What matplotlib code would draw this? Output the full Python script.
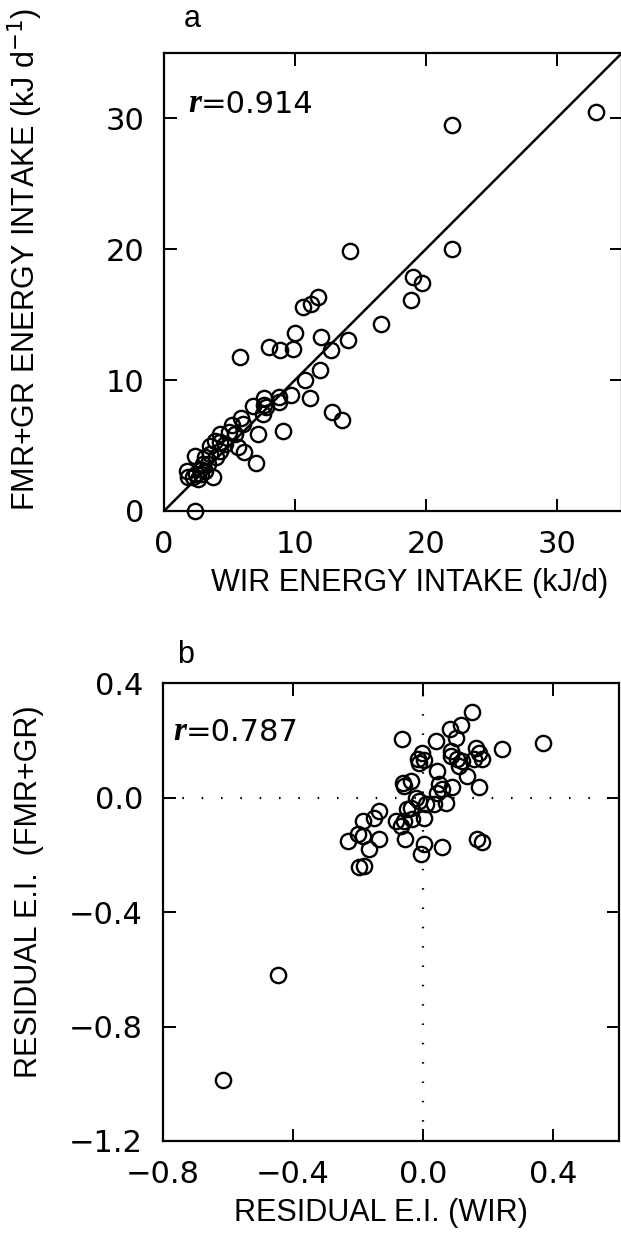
import matplotlib
matplotlib.use('Agg')
from matplotlib import pyplot as plt

plt.rcParams['font.family'] = ['Liberation Sans', 'DejaVu Sans']
plt.rcParams['font.size'] = 22
plt.rcParams['axes.linewidth'] = 1.6
for t in ('xtick', 'ytick'):
    plt.rcParams[t + '.direction'] = 'in'
    plt.rcParams[t + '.major.size'] = 9
    plt.rcParams[t + '.major.width'] = 1.4
    plt.rcParams[t + '.major.pad'] = 14
    plt.rcParams[t + '.labelsize'] = 22
plt.rcParams['xtick.top'] = True
plt.rcParams['ytick.right'] = True

# panel a: energy intake, WIR vs FMR+GR (kJ/d)
wir_ei = [33.0, 22.0, 22.0, 14.2, 19.0, 19.7, 18.85, 16.6, 11.75, 11.2, 10.65,
          10.0, 11.97, 14.05, 12.73, 9.87, 8.9, 8.0, 5.82, 11.92, 10.78, 9.67, 11.16,
          12.86, 13.6, 9.06, 7.2, 7.04, 2.35, 3.75,
          8.76, 8.76, 7.67, 7.67, 7.54, 7.8, 6.78, 5.9, 6.03, 5.65, 6.1, 5.2, 5.39,
          5.0, 4.25, 4.25, 4.63, 3.87, 4.25, 3.49, 3.49, 4.0, 3.11, 2.35, 2.99, 3.37,
          2.73, 1.72, 1.85, 2.48, 2.86, 3.11, 2.23, 2.61]
fmr_ei = [30.5, 29.5, 20.0, 19.9, 17.9, 17.45, 16.1, 14.3, 16.35, 15.8, 15.6,
          13.6, 13.26, 13.08, 12.3, 12.36, 12.3, 12.56, 11.8, 10.8, 10.0, 8.9, 8.67,
          7.56, 6.92, 6.08, 5.9, 3.67, 0.0, 2.56,
          8.72, 8.33, 8.64, 8.08, 7.44, 7.95, 8.0, 7.13, 6.67, 4.87, 4.5, 6.54, 5.9,
          6.0, 5.9, 5.26, 5.13, 5.38, 4.62, 5.0, 4.36, 4.1, 4.1, 4.23, 3.59, 3.59,
          3.2, 3.08, 2.56, 2.82, 2.82, 3.08, 2.56, 2.44]
ticks_a = [0, 10, 20, 30]

# panel b: residual energy intake
res_wir = [-0.613, -0.445, 0.149, 0.115, 0.083, 0.100, -0.066, 0.041, 0.369, 0.241,
           0.161, 0.172, 0.182, 0.156, 0.085, 0.085, 0.105, 0.121, 0.110, 0.136,
           0.172, -0.004, -0.017, 0.003, -0.012, 0.044, -0.063, -0.038, -0.058,
           0.049, 0.059, 0.090, 0.044, 0.069, 0.034, 0.008, -0.022, -0.012, -0.038,
           -0.048, 0.003, -0.033, -0.058, -0.084, -0.068, -0.135, -0.150, -0.186,
           -0.201, -0.230, -0.186, -0.135, -0.165, -0.055, 0.003, -0.007, 0.059,
           0.164, 0.182, -0.198, -0.181]
res_fmr = [-0.988, -0.620, 0.300, 0.254, 0.241, 0.210, 0.204, 0.198, 0.192, 0.171,
           0.172, 0.157, 0.134, 0.134, 0.163, 0.146, 0.134, 0.128, 0.111, 0.076,
           0.037, 0.157, 0.134, 0.131, 0.122, 0.093, 0.052, 0.058, 0.041,
           0.047, 0.029, 0.037, 0.017, -0.017, -0.023, -0.023, 0.0, -0.012, -0.035,
           -0.041, -0.070, -0.076, -0.082, -0.082, -0.099, -0.047, -0.070, -0.082,
           -0.128, -0.152, -0.134, -0.146, -0.181, -0.146, -0.163, -0.196, -0.172,
           -0.143, -0.155, -0.242, -0.239]
xticks_b = [-0.8, -0.4, 0.0, 0.4]
yticks_b = [-1.2, -0.8, -0.4, 0.0, 0.4]

fig = plt.figure(figsize=(6.21, 12.34), dpi=100)

# ---- panel a
ax1 = fig.add_axes([0.2641, 0.5859, 0.7375, 0.3712])
ax1.plot([0, 35], [0, 35], 'k-', lw=1.8)
ax1.plot(wir_ei, fmr_ei, 'o', mfc='none', mec='k', ms=11, mew=1.7, clip_on=False)
ax1.set_xlim(0, 35), ax1.set_ylim(0, 35)
ax1.set_xticks(ticks_a), ax1.set_yticks(ticks_a)
ax1.tick_params(labelfontfamily='DejaVu Sans')
ax1.set_xlabel('WIR ENERGY INTAKE (kJ/d)')
ax1.set_ylabel('FMR+GR ENERGY INTAKE (kJ d$^{-1}$)')
ax1.xaxis.set_label_coords(0.537, -0.125)
ax1.yaxis.set_label_coords(-0.26, 0.55)
r1 = ax1.text(0.052, 0.871, 'r', transform=ax1.transAxes, family='Liberation Serif',
              style='italic', weight='bold', fontsize=24, va='baseline')
ax1.annotate('=0.914', xy=(1, 0), xycoords=r1, va='bottom', ha='left',
             fontsize=22, family='DejaVu Sans')
ax1.text(0.061, 1.057, 'a', transform=ax1.transAxes, ha='center', va='baseline')

# ---- panel b
ax2 = fig.add_axes([0.2617, 0.0754, 0.7343, 0.3709])
ax2.axhline(0, color='k', lw=1.6, ls=(0, (0.7, 8)))
ax2.axvline(0, color='k', lw=1.6, ls=(0, (0.7, 8)))
ax2.plot(res_wir, res_fmr, 'o', mfc='none', mec='k', ms=11, mew=1.7)
ax2.set_xlim(-0.8, 0.6), ax2.set_ylim(-1.2, 0.4)
ax2.set_xticks(xticks_b)
ax2.set_xticklabels([f'{v:.1f}'.replace('-', '\u2212') for v in xticks_b])
ax2.set_yticks(yticks_b)
ax2.set_yticklabels([f'{v:.1f}'.replace('-', '\u2212') for v in yticks_b])
ax2.tick_params(labelfontfamily='DejaVu Sans')
ax2.set_xlabel('RESIDUAL E.I. (WIR)')
ax2.set_ylabel('RESIDUAL E.I.  (FMR+GR)')
ax2.xaxis.set_label_coords(0.48, -0.125)
ax2.yaxis.set_label_coords(-0.26, 0.544)
r2 = ax2.text(0.023, 0.876, 'r', transform=ax2.transAxes, family='Liberation Serif',
              style='italic', weight='bold', fontsize=24, va='baseline')
ax2.annotate('=0.787', xy=(1, 0), xycoords=r2, va='bottom', ha='left',
             fontsize=22, family='DejaVu Sans')
ax2.text(0.051, 1.044, 'b', transform=ax2.transAxes, ha='center', va='baseline')

fig.savefig('out.png', dpi=100)
